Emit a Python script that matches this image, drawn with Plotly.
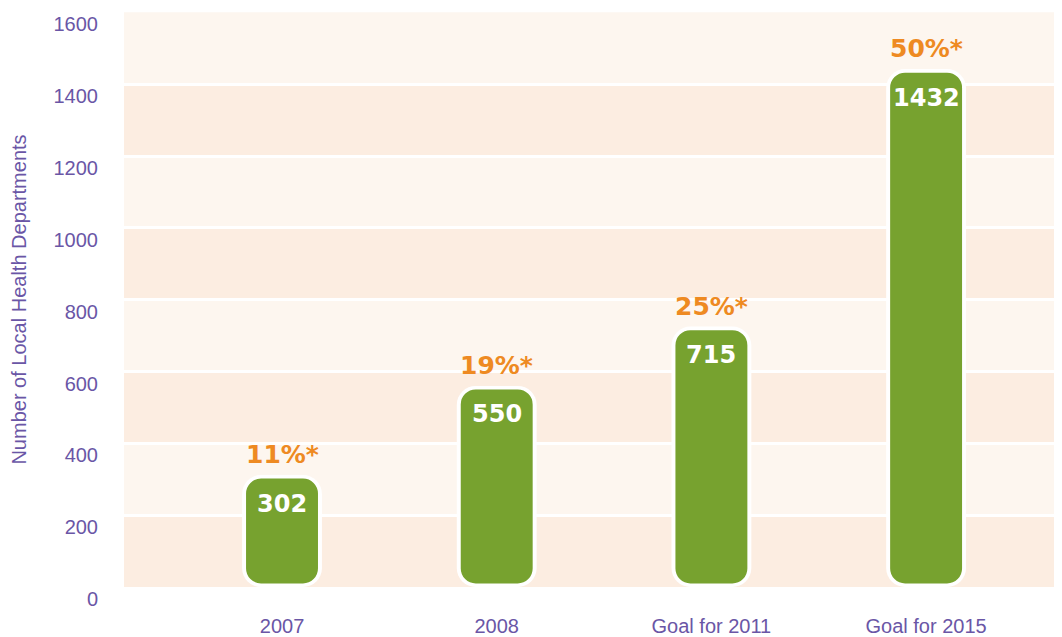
import plotly.graph_objects as go

# ─── Data ───────────────────────────────────────────────────────────────────
categories = ["2007", "2008", "Goal for 2011", "Goal for 2015"]
departments = [302, 550, 715, 1432]
percent_labels = ["11%*", "19%*", "25%*", "50%*"]
y_ticks = [0, 200, 400, 600, 800, 1000, 1200, 1400, 1600]

# ─── Style ──────────────────────────────────────────────────────────────────
COLORS = {
    "bar": "#77a22f",
    "outline": "#ffffff",
    "pct": "#ee8a22",
    "text": "#6a56a6",
    "band_light": "#fdf6ef",
    "band_dark": "#fcede1",
}
FONT = "Liberation Sans, Arial, sans-serif"
BOLD_FONT = "DejaVu Sans, Arial Black, sans-serif"
BAR_W = 0.335
OUTLINE_W = 0.372
PAD = 10       # data units of white rim at the bar ends

x_idx = list(range(len(categories)))

fig = go.Figure()

# white rim behind each bar
fig.add_trace(go.Bar(
    x=x_idx,
    base=[0] * len(departments),
    y=[v + PAD for v in departments],
    width=OUTLINE_W,
    marker=dict(color=COLORS["outline"], line=dict(width=0), cornerradius=19),
    hoverinfo="skip",
    showlegend=False,
))
# green bars
fig.add_trace(go.Bar(
    x=x_idx,
    base=[PAD] * len(departments),
    y=[v - PAD for v in departments],
    width=BAR_W,
    marker=dict(color=COLORS["bar"], line=dict(width=0), cornerradius=15),
    hoverinfo="skip",
    showlegend=False,
))

# value labels inside the bars, percentage labels above
for i, (v, pct) in enumerate(zip(departments, percent_labels)):
    fig.add_annotation(
        x=i, y=v, text=str(v), showarrow=False,
        yanchor="middle", yshift=-25,
        font=dict(family=BOLD_FONT, size=24, color="white", weight="bold"),
    )
    fig.add_annotation(
        x=i, y=v, text=pct, showarrow=False,
        yanchor="middle", yshift=24,
        font=dict(family=BOLD_FONT, size=25, color=COLORS["pct"], weight="bold"),
    )

# alternating background bands between the gridlines
for k in range(len(y_ticks) - 1):
    fig.add_shape(
        type="rect", xref="paper", yref="y",
        x0=0, x1=1, y0=y_ticks[k], y1=y_ticks[k + 1],
        fillcolor=COLORS["band_dark"] if k % 2 == 0 else COLORS["band_light"],
        line=dict(width=0), layer="below",
    )

# page body has an 8px margin, so the figure is sized to the remaining area
fig.update_layout(
    width=1054,
    height=629,
    margin=dict(l=116, r=0, t=4, b=48),
    paper_bgcolor="white",
    plot_bgcolor="white",
    barmode="overlay",
    font=dict(family=FONT, size=20, color=COLORS["text"]),
    xaxis=dict(
        range=[-0.736, 3.633],
        tickvals=x_idx,
        ticktext=categories,
        showgrid=False,
        zeroline=False,
        showline=False,
        ticks="",
        ticklabelstandoff=25,
        tickfont=dict(size=20, color=COLORS["text"]),
    ),
    yaxis=dict(
        range=[0, 1601],
        tickvals=y_ticks,
        showgrid=True,
        gridcolor="white",
        gridwidth=3,
        zeroline=False,
        showline=False,
        ticks="",
        ticklabelstandoff=25,
        ticklabelshift=12,
        tickfont=dict(size=20, color=COLORS["text"]),
        title=dict(
            text="Number of Local Health Departments",
            font=dict(size=20, color=COLORS["text"]),
            standoff=24,
        ),
    ),
)

fig.write_html("out.html")
